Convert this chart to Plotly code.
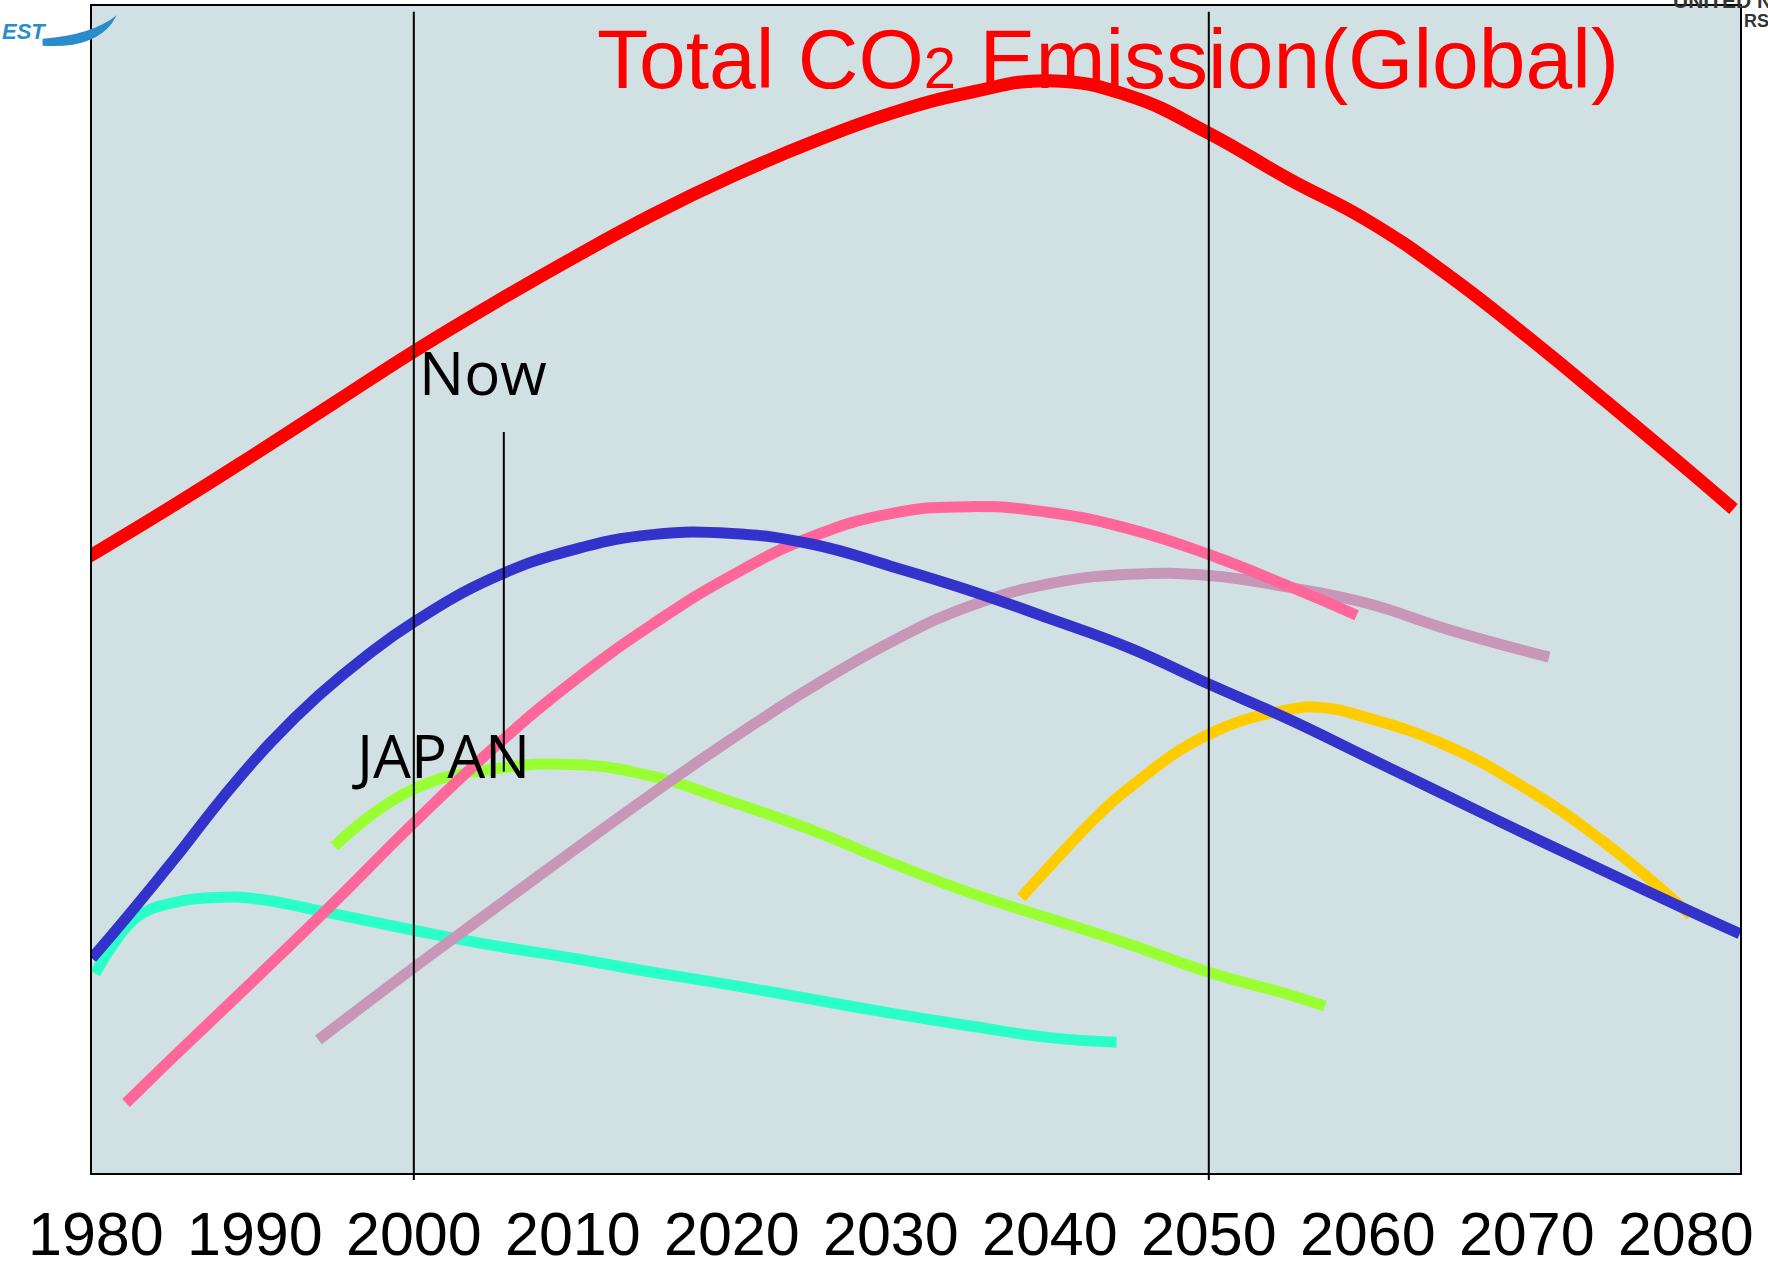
import plotly.graph_objects as go

# ---------------- data ----------------
tick_years = [1980, 1990, 2000, 2010, 2020, 2030, 2040, 2050, 2060, 2070, 2080]
tick_labels = [str(y) for y in tick_years]

global_years = [1979.3, 1985, 1990, 1995, 2000, 2005, 2010, 2015, 2020, 2025, 2030,
                2035, 2040, 2045, 2050, 2055, 2060, 2065, 2070, 2075, 2080, 2083]
global_vals = [52.6, 57.3, 61.6, 66.0, 70.4, 74.5, 78.4, 82.1, 85.4, 88.3, 90.8,
               92.6, 93.6, 92.3, 89.1, 85.2, 81.6, 77.0, 71.7, 66.1, 60.4, 56.9]

blue_years = [1979.75, 1982, 1985, 1988, 1991, 1994, 1997, 2000, 2005, 2010, 2015, 2020,
              2025, 2030, 2035, 2040, 2045, 2050, 2055, 2060, 2065, 2070, 2075, 2080, 2083.4]
blue_vals = [18.4, 22.0, 27.0, 32.2, 36.9, 40.9, 44.3, 47.2, 51.0, 53.4, 54.7, 54.8,
             53.9, 52.0, 49.9, 47.5, 45.0, 41.9, 38.9, 35.6, 32.3, 29.0, 25.8, 22.6, 20.5]

pink_years = [1981.9, 1985, 1990, 1995, 2000, 2005, 2010, 2015, 2020, 2025, 2030,
              2035, 2040, 2045, 2050, 2055, 2059.3]
pink_vals = [6.0, 10.1, 16.6, 23.2, 30.0, 36.4, 42.1, 47.0, 51.2, 54.5, 56.5,
             57.1, 56.6, 55.2, 53.0, 50.3, 47.8]

mauve_years = [1994.0, 2000, 2005, 2010, 2015, 2020, 2025, 2030, 2035, 2040, 2045,
               2050, 2055, 2060, 2065, 2071.4]
mauve_vals = [11.4, 17.6, 22.6, 27.6, 32.5, 37.2, 41.6, 45.5, 48.6, 50.5, 51.3,
              51.2, 50.2, 48.8, 46.6, 44.2]

japan_years = [1995.0, 2000, 2005, 2010, 2015, 2020, 2025, 2030, 2035, 2040, 2045,
               2050, 2055, 2057.3]
japan_vals = [28.0, 32.9, 34.6, 35.0, 34.0, 31.8, 29.4, 26.6, 24.0, 21.8, 19.6,
              17.2, 15.3, 14.3]

cyan_years = [1979.95, 1981, 1982, 1983, 1985, 1987.5, 1990, 1995, 2000, 2005, 2010,
              2015, 2020, 2025, 2030, 2035, 2040, 2044.2]
cyan_vals = [17.1, 19.4, 21.2, 22.3, 23.2, 23.6, 23.5, 22.2, 20.8, 19.5, 18.4,
             17.2, 16.1, 14.9, 13.7, 12.6, 11.6, 11.2]

yellow_years = [2038.2, 2040, 2043, 2045, 2050, 2055, 2057, 2060, 2065, 2070, 2075, 2080.3]
yellow_vals = [23.6, 26.3, 30.6, 33.0, 37.6, 39.7, 39.9, 39.0, 36.6, 32.9, 28.2, 22.1]

series = [
    (cyan_years, cyan_vals, "#2BFFC8", 11),
    (japan_years, japan_vals, "#99FF33", 11),
    (mauve_years, mauve_vals, "#C896B6", 11),
    (pink_years, pink_vals, "#FF6699", 11),
    (yellow_years, yellow_vals, "#FFCC00", 11),
    (blue_years, blue_vals, "#3333CC", 11),
    (global_years, global_vals, "#FF0000", 13),
]

fig = go.Figure()
for xs, ys, col, w in series:
    fig.add_trace(go.Scatter(x=xs, y=ys, mode="lines",
                             line=dict(color=col, width=w, shape="spline", smoothing=1.3),
                             hoverinfo="skip", showlegend=False))

# vertical reference lines
for yr in (2000, 2050):
    fig.add_shape(type="line", xref="x", yref="paper", x0=yr, x1=yr, y0=-0.006, y1=0.995,
                  line=dict(color="black", width=2), layer="above")
fig.add_shape(type="line", xref="x", yref="y", x0=2005.66, x1=2005.66, y0=34.4, y1=63.5,
              line=dict(color="black", width=2), layer="above")

fig.add_annotation(x=2000.2, y=68.6, xref="x", yref="y", text="Now", showarrow=False,
                   xanchor="left", yanchor="middle",
                   font=dict(family="Open Sans, DejaVu Sans", size=60, color="black"))
fig.add_annotation(x=1996.0, y=35.8, xref="x", yref="y", text="JAPAN", showarrow=False,
                   xanchor="left", yanchor="middle",
                   font=dict(family="Open Sans, DejaVu Sans", size=60, color="black"))

fig.add_annotation(x=0.305, y=0.955, xref="paper", yref="paper",
                   text="Total CO<span style='font-size:58px'>2</span> Emission(Global)",
                   showarrow=False, xanchor="left", yanchor="middle",
                   font=dict(family="Liberation Sans, Arial", size=84, color="#FF0000"))

# partial logos at the corners
fig.add_annotation(x=-0.056, y=0.978, xref="paper", yref="paper", text="<b><i>EST</i></b>",
                   showarrow=False, xanchor="left", yanchor="middle",
                   font=dict(family="Liberation Sans", size=22, color="#2A8CC8"))
fig.add_shape(type="path", xref="paper", yref="paper",
              path="M -0.03 0.966 Q 0.0 0.963 0.012 0.985 L 0.015 0.992 Q 0.0 0.975 -0.03 0.972 Z",
              fillcolor="#2A8CC8", line=dict(width=0))
fig.add_annotation(x=1.001, y=0.987, xref="paper", yref="paper", text="<b>RSIT</b>",
                   showarrow=False, xanchor="left", yanchor="middle",
                   font=dict(family="Liberation Sans Narrow, Liberation Sans", size=18, color="#333333"))
fig.add_annotation(x=0.958, y=1.0045, xref="paper", yref="paper", text="<b>UNITED N</b>",
                   showarrow=False, xanchor="left", yanchor="middle",
                   font=dict(family="Liberation Sans", size=21, color="#333333"))

fig.update_layout(
    width=1768, height=1269,
    margin=dict(l=92, r=28, t=6, b=96, autoexpand=False),
    paper_bgcolor="white",
    plot_bgcolor="#D1E0E3",
    xaxis=dict(range=[1979.76, 2083.41], tickvals=tick_years, ticktext=tick_labels,
               showgrid=False, zeroline=False, showline=True, linecolor="black",
               linewidth=2, mirror=True, ticks="", ticklabelstandoff=7, automargin=False,
               tickfont=dict(family="Liberation Sans, Arial", size=61, color="black")),
    yaxis=dict(range=[0, 100], showticklabels=False, showgrid=False, zeroline=False,
               showline=True, linecolor="black", linewidth=2, mirror=True, ticks="",
               automargin=False),
)

fig.write_html("out.html")
